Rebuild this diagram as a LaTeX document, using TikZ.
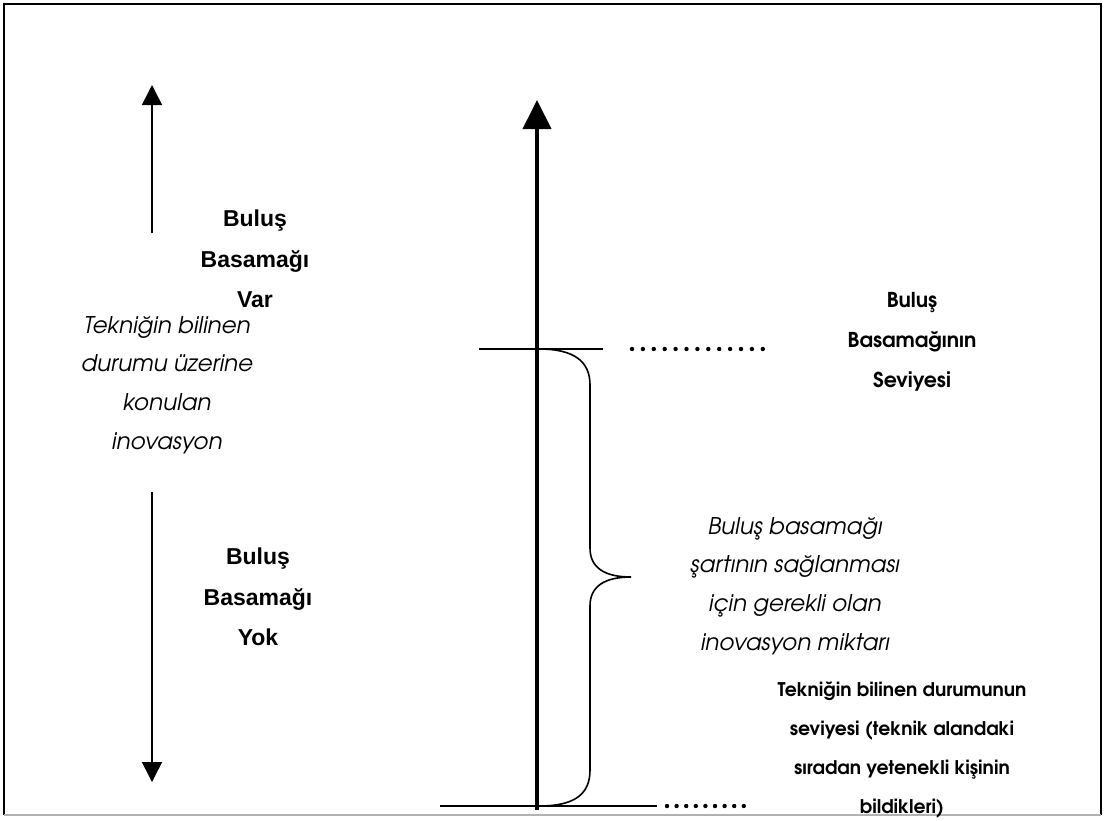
\documentclass[tikz,border=0pt]{standalone}
\usepackage{fontspec}
\usetikzlibrary{arrows.meta}
\newfontfamily\gothic{TeX Gyre Adventor}
\newfontfamily\arialf{Liberation Sans}
\begin{document}
\begin{tikzpicture}[x=1pt,y=-1pt,
  lbl/.style={align=center,inner sep=0pt,text=black},
  bigbold/.style={lbl,font=\arialf\bfseries\fontsize{23}{40.5}\selectfont},
  gitalic/.style={lbl,font=\gothic\itshape\fontsize{23}{38.8}\selectfont},
  gbold/.style={lbl,font=\gothic\bfseries\fontsize{20.5}{40}\selectfont},
  gbolds/.style={lbl,font=\gothic\bfseries\fontsize{18.8}{38.8}\selectfont},
  thinarrow/.style={line width=1.5pt,-{Triangle[width=20pt,length=20pt]}},
  mainarrow/.style={line width=4pt,-{Triangle[width=28pt,length=29pt]}},
  level/.style={line width=2.4pt},
  brace/.style={line width=1.6pt},
  dot/.style={fill=black,circle,inner sep=0pt,minimum size=4.4pt}]
\useasboundingbox (0,0) rectangle (1105,820);
% frame
\draw[line width=1.3pt] (4,815) -- (4,4) -- (1101,4) -- (1101,815);
\draw[line width=1.3pt,black!30] (4,815) -- (1101,815);

% coordinates
\coordinate (axisbot) at (537,810);
\coordinate (axistop) at (537,100);
\coordinate (upstart) at (152,233);
\coordinate (uptip) at (152,85);
\coordinate (downstart) at (152,492);
\coordinate (downtip) at (152,782);
\coordinate (topL) at (479,349);
\coordinate (topR) at (603,349);
\coordinate (botL) at (440,806);
\coordinate (botR) at (657,806);
\coordinate (bstart) at (539,349);
\coordinate (btip) at (631,577);
\coordinate (bend) at (539,806);

% arrows
\draw[mainarrow] (axisbot) -- (axistop);
\draw[thinarrow] (upstart) -- (uptip);
\draw[thinarrow] (downstart) -- (downtip);

% level lines
\draw[level] (topL) -- (topR);
\draw[level] (botL) -- (botR);

% dots
\foreach \i in {0,...,12} \node[dot] (td\i) at (632+\i*10.9,349) {};
\foreach \i in {0,...,8} \node[dot] (bd\i) at (667+\i*9.6,806) {};

% brace
\draw[brace] (bstart) .. controls (575,349) and (590,362) .. (590,385)
  -- (590,548) .. controls (590,568) and (605,577) .. (btip)
  .. controls (605,577) and (590,586) .. (590,606)
  -- (590,770) .. controls (590,794) and (575,806) .. (bend);

% texts
\node[bigbold] (var) at (255,259) {Buluş\\Basamağı\\Var};
\node[bigbold] (yok) at (258,597) {Buluş\\Basamağı\\Yok};
\node[gitalic] (inov) at (167,385) {Tekniğin bilinen\\durumu üzerine\\konulan\\inovasyon};
\node[gbold] (seviye) at (912,342) {Buluş\\Basamağının\\Seviyesi};
\node[gitalic] (miktar) at (795,586) {Buluş basamağı\\şartının sağlanması\\için gerekli olan\\inovasyon miktarı};
\node[gbolds] (teknik) at (902,750) {Tekniğin bilinen durumunun\\seviyesi (teknik alandaki\\sıradan yetenekli kişinin\\bildikleri)};
\end{tikzpicture}
\end{document}
